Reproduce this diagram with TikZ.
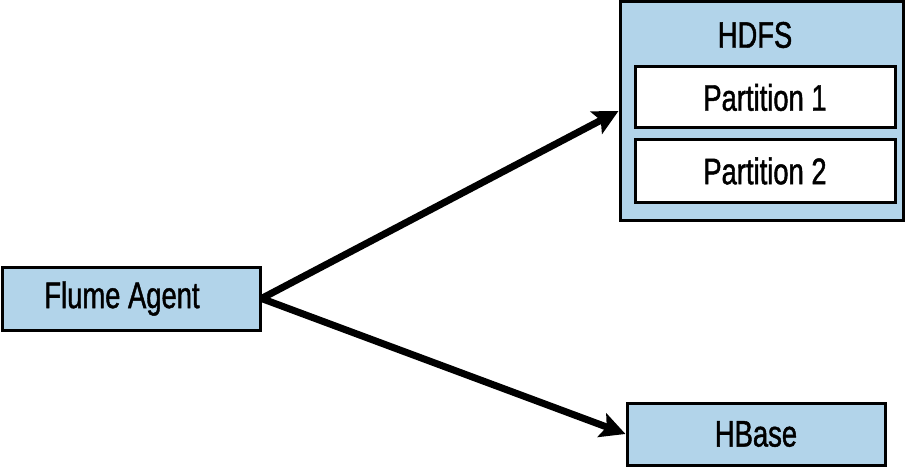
\documentclass[tikz,border=0pt]{standalone}
\usepackage{fontspec}
\setmainfont[FakeStretch=0.74,FakeBold=1.2]{Liberation Sans}
\usetikzlibrary{arrows.meta}
\definecolor{boxblue}{HTML}{B2D4EA}
\begin{document}
\begin{tikzpicture}[x=1pt,y=1pt,
  bluebox/.style={draw=black,line width=3pt,fill=boxblue,inner sep=0pt},
  whitebox/.style={draw=black,line width=3pt,fill=white,inner sep=0pt},
  lbl/.style={font=\fontsize{37}{40}\selectfont},
  arr/.style={line width=7pt,-{Stealth[length=25pt,width=25pt,inset=5pt]}}]
\useasboundingbox (0,0) rectangle (906,467);
\node[bluebox,minimum width=258pt,minimum height=63pt] (flume) at (131,168.5) {};
\node[lbl] (flumelbl) at (122,168.5) {Flume Agent};
\node[bluebox,minimum width=283pt,minimum height=218pt] (hdfs) at (761.5,356) {};
\node[lbl] (hdfslbl) at (755,432) {HDFS};
\node[whitebox,minimum width=260pt,minimum height=61pt,lbl] (p1) at (765,369.5) {Partition 1};
\node[whitebox,minimum width=260pt,minimum height=62pt,lbl] (p2) at (765,296) {Partition 2};
\node[bluebox,minimum width=258pt,minimum height=62pt,lbl] (hbase) at (756,33) {HBase};
\draw[arr] (flume.east) -- (hdfs.west);
\draw[arr] (flume.east) -- (hbase.west);
\end{tikzpicture}
\end{document}
